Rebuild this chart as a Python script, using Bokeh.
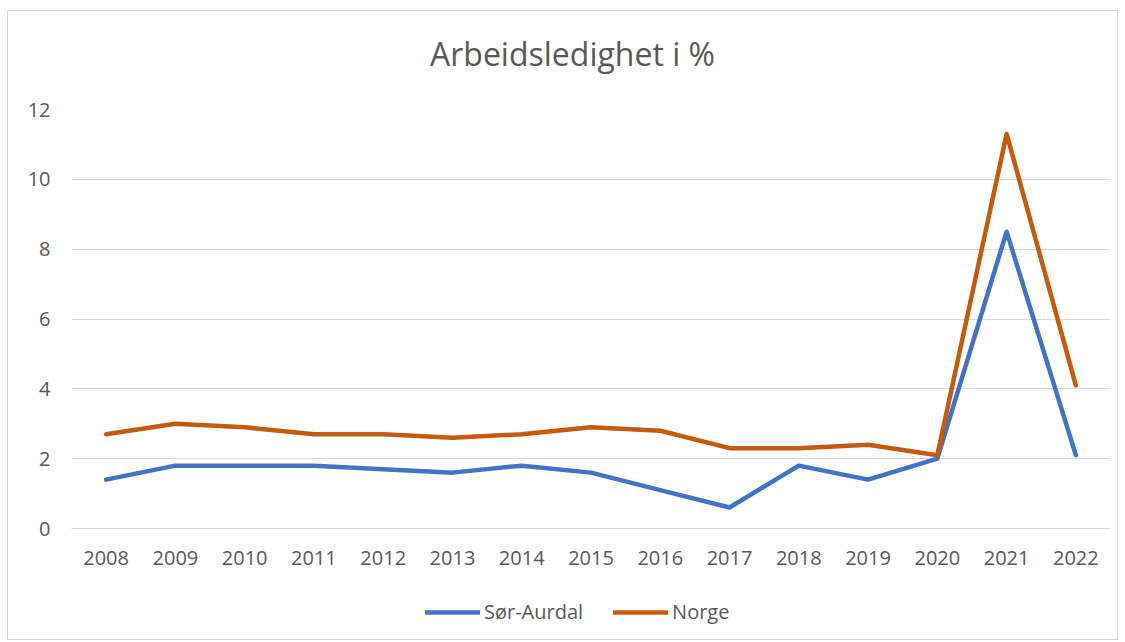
from bokeh.plotting import figure
from bokeh.models import Range1d, FactorRange, Legend, LegendItem, Label
from bokeh.layouts import column
from bokeh.embed import file_html
from bokeh.resources import INLINE

years = ["2008", "2009", "2010", "2011", "2012", "2013", "2014", "2015",
         "2016", "2017", "2018", "2019", "2020", "2021", "2022"]
sor_aurdal = [1.4, 1.8, 1.8, 1.8, 1.7, 1.6, 1.8, 1.6, 1.1, 0.6, 1.8, 1.4, 2.0, 8.5, 2.1]
norge = [2.7, 3.0, 2.9, 2.7, 2.7, 2.6, 2.7, 2.9, 2.8, 2.3, 2.3, 2.4, 2.1, 11.3, 4.1]
series_names = ["Sør-Aurdal", "Norge"]
series_colors = ["#4472C4", "#C55A11"]
title_text = "Arbeidsledighet i %"

FONT = "Open Sans"
TXT = "#595959"
W = 1109


def strip(height):
    f = figure(width=W, height=height, x_range=Range1d(0, 1), y_range=Range1d(0, 1),
               output_backend="svg", toolbar_location=None,
               x_axis_location=None, y_axis_location=None,
               min_border_left=0, min_border_right=0, min_border_top=0, min_border_bottom=0)
    f.outline_line_color = None
    f.xgrid.grid_line_color = None
    f.ygrid.grid_line_color = None
    return f


# title strip
p0 = strip(80)
p0.add_layout(Label(x=501, y=38, x_units="screen", y_units="screen", text=title_text,
                    text_align="center", text_baseline="middle", text_font=FONT,
                    text_font_size="32px", text_color=TXT))

# main chart
p = figure(width=W, height=500, x_range=FactorRange(*years), y_range=Range1d(0, 12),
           output_backend="svg", toolbar_location=None,
           min_border_left=63, min_border_right=7, min_border_top=18, min_border_bottom=63)

p.outline_line_color = None
p.xgrid.grid_line_color = None
p.ygrid.grid_line_color = "#d9d9d9"
p.ygrid.grid_line_width = 1
p.yaxis.ticker = [0, 2, 4, 6, 8, 10, 12]

p.yaxis.axis_line_color = None
p.yaxis.major_tick_line_color = None
p.yaxis.minor_tick_line_color = None
p.yaxis.major_tick_out = 0
p.yaxis.major_label_standoff = 21
p.xaxis.axis_line_color = "#d9d9d9"
p.xaxis.major_tick_line_color = None
p.xaxis.major_tick_out = 0
p.xaxis.major_label_standoff = 22
for ax in (p.xaxis, p.yaxis):
    ax.major_label_text_font = FONT
    ax.major_label_text_font_size = "20px"
    ax.major_label_text_color = TXT

for vals, col in zip([sor_aurdal, norge], series_colors):
    p.line(years, vals, line_color=col, line_width=4.5,
           line_cap="round", line_join="round")

# legend strip below the chart (legend samples only; their lines lie outside the view)
p2 = strip(48)
items = []
for name, col in zip(series_names, series_colors):
    r = p2.line(x=[-2, -1], y=[-2, -1], line_color=col, line_width=4.5, line_cap="round")
    items.append(LegendItem(label=name, renderers=[r]))
legend = Legend(items=items, location=(354, 14), orientation="horizontal",
                glyph_width=55, glyph_height=20, label_standoff=4, spacing=30,
                padding=0, margin=0, border_line_color=None, background_fill_alpha=0,
                label_text_font=FONT, label_text_font_size="20px", label_text_color=TXT)
p2.add_layout(legend, "center")

layout = column(p0, p, p2, spacing=0,
                styles={"border": "1px solid #d9d9d9", "margin-left": "7px", "margin-top": "10px"})

open("out.html", "w").write(file_html(layout, INLINE))
